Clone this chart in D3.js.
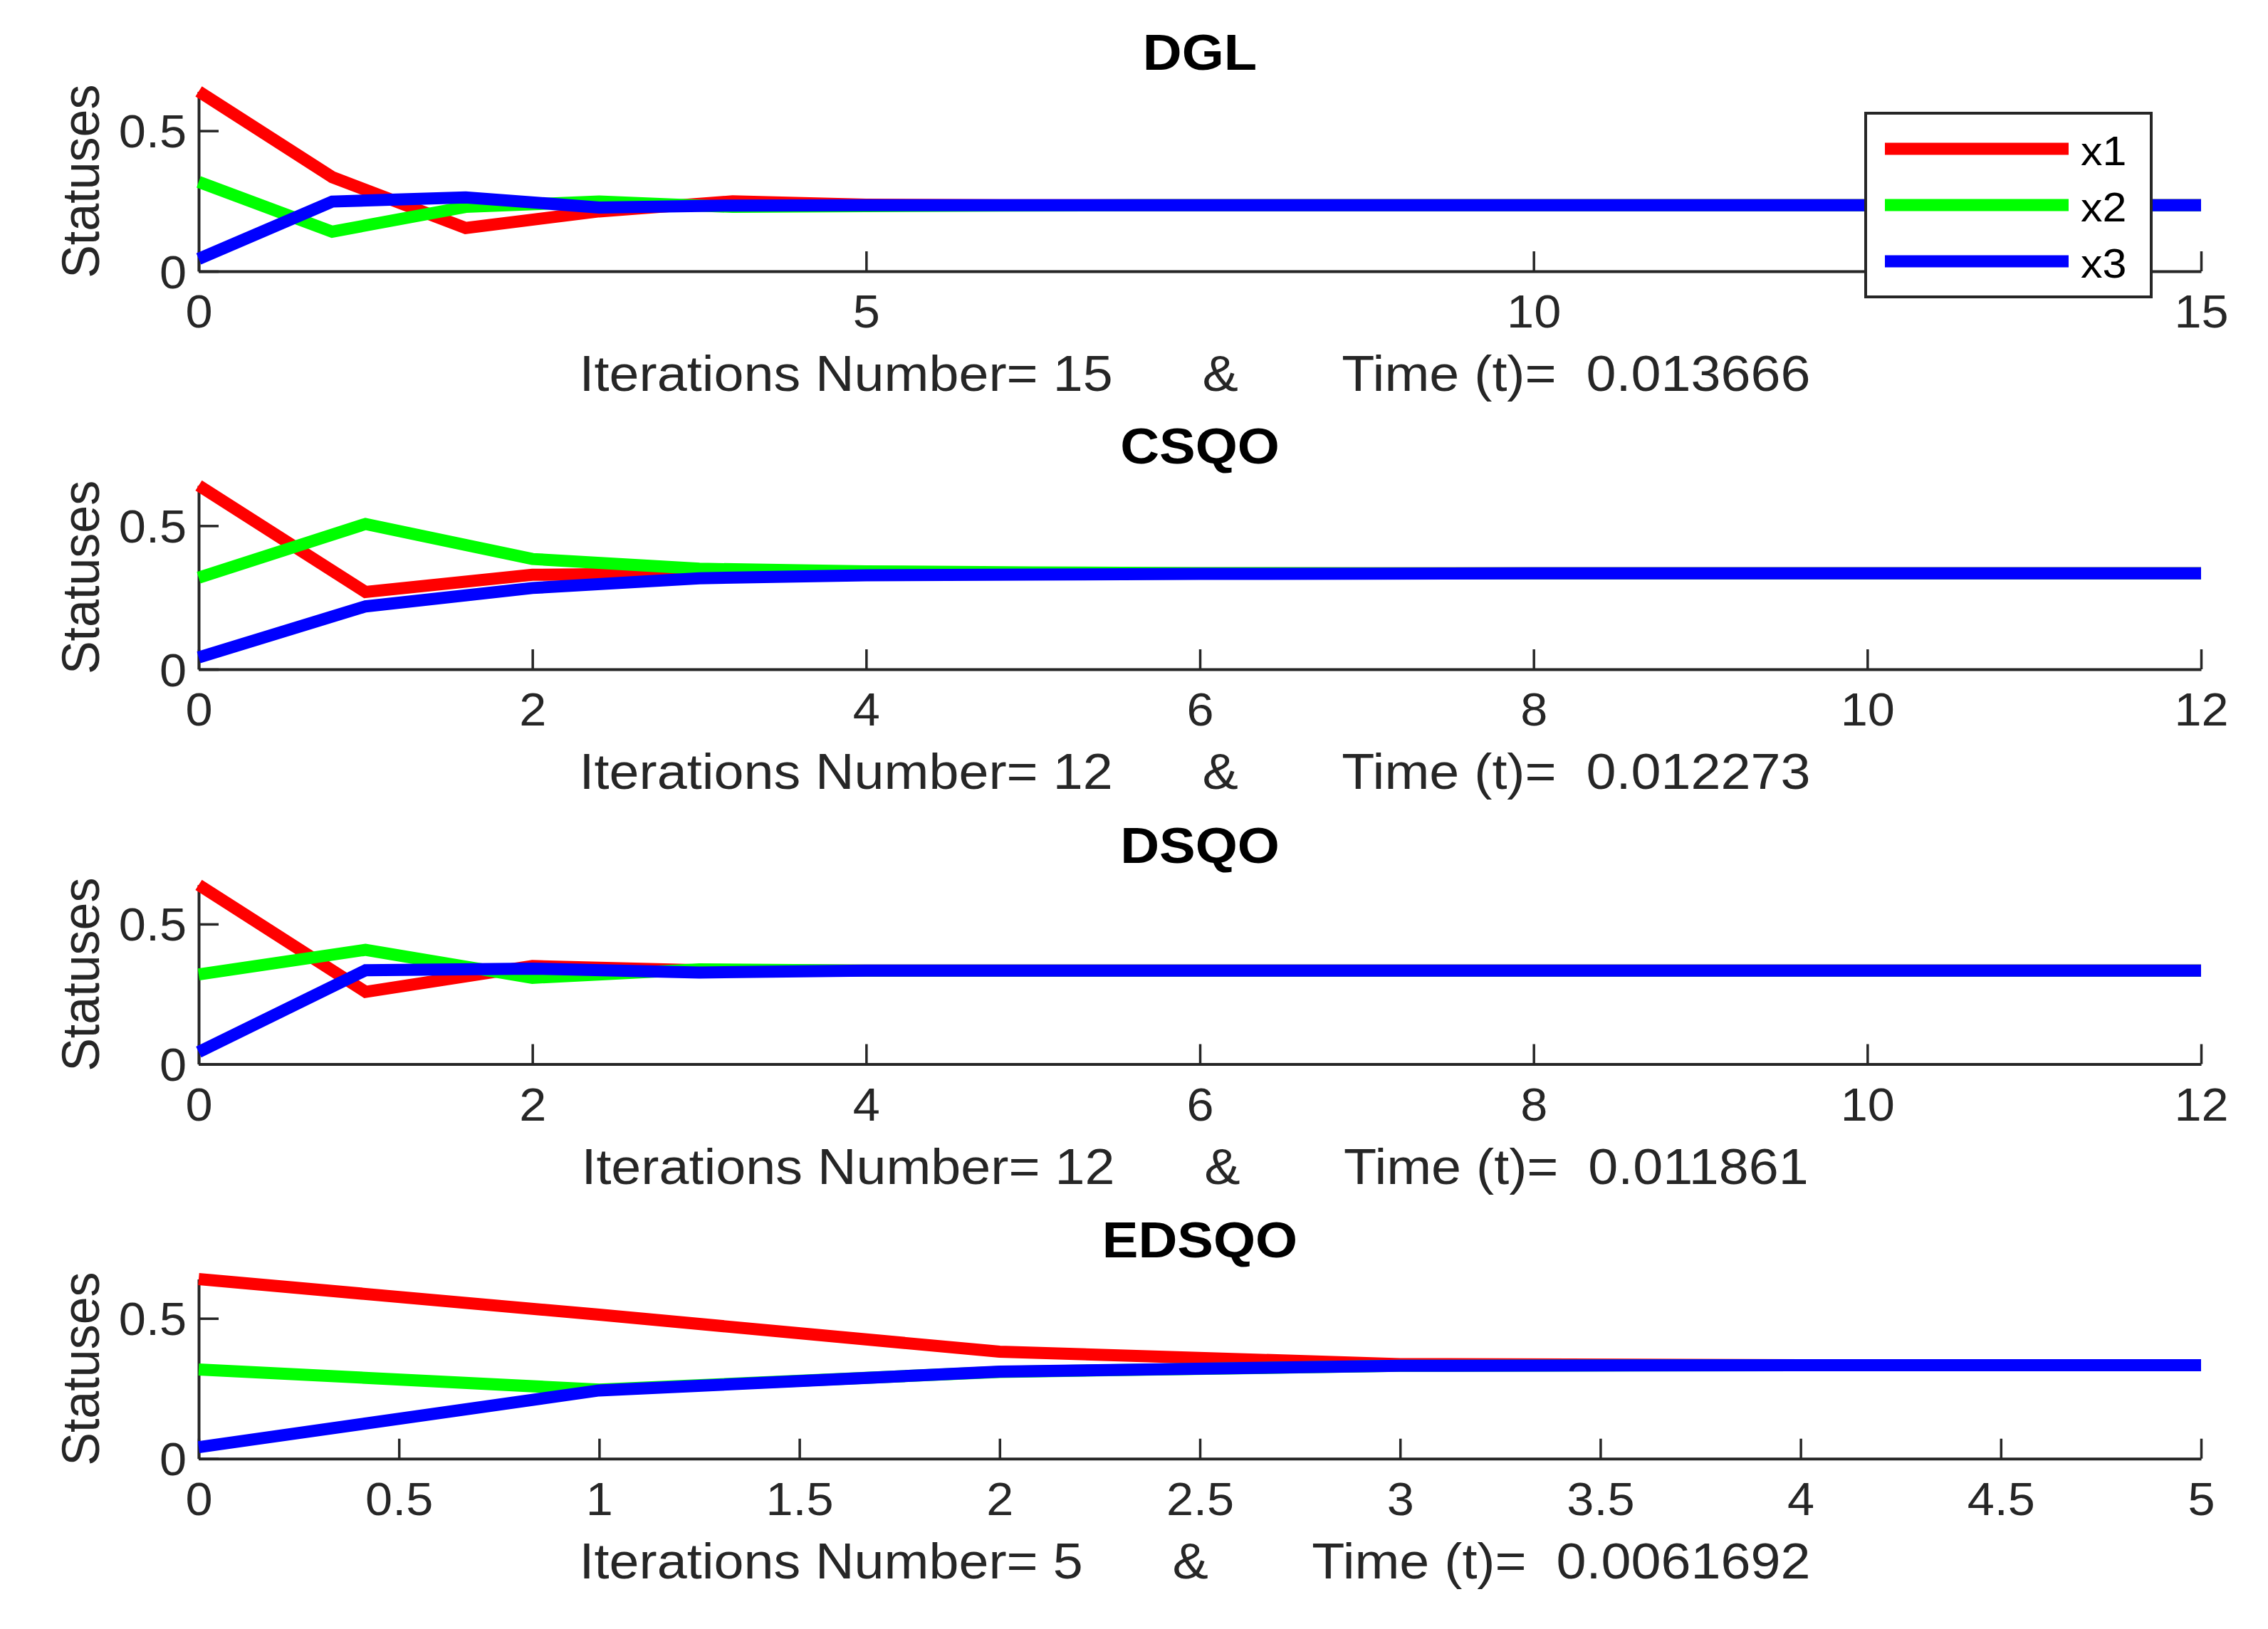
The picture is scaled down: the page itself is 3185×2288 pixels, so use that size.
<!DOCTYPE html>
<html>
<head>
<meta charset="utf-8">
<script src="https://cdn.jsdelivr.net/npm/d3@7"></script>
<style>
  html, body { margin: 0; padding: 0; background: #fff; }
  text { font-family: "Liberation Sans", Arial, Helvetica, sans-serif; }
</style>
</head>
<body>
<script>
// ---------------- data ----------------
const panelTitles = ["DGL", "CSQO", "DSQO", "EDSQO"];
const iterationNumbers = [15, 12, 12, 5];
const timeValues = ["0.013666", "0.012273", "0.011861", "0.0061692"];
const xMaxValues = [15, 12, 12, 5];
const xTickValues = [
  [0, 5, 10, 15],
  [0, 2, 4, 6, 8, 10, 12],
  [0, 2, 4, 6, 8, 10, 12],
  [0, 0.5, 1, 1.5, 2, 2.5, 3, 3.5, 4, 4.5, 5]
];
const yTickValues = [0, 0.5];
const yMaxValue = 0.64;
const seriesNames = ["x1", "x2", "x3"];
const seriesColors = ["#ff0000", "#00ff00", "#0000ff"];

// DGL (iterations 0..15)
const dglX1 = [0.640, 0.335, 0.154, 0.213, 0.249, 0.237, 0.235, 0.235, 0.235, 0.235, 0.235, 0.235, 0.235, 0.235, 0.235, 0.235];
const dglX2 = [0.318, 0.141, 0.229, 0.248, 0.229, 0.232, 0.234, 0.235, 0.235, 0.235, 0.235, 0.235, 0.235, 0.235, 0.235, 0.235];
const dglX3 = [0.044, 0.248, 0.263, 0.227, 0.234, 0.235, 0.235, 0.235, 0.235, 0.235, 0.235, 0.235, 0.235, 0.235, 0.235, 0.235];
// CSQO (iterations 0..12)
const csqoX1 = [0.640, 0.269, 0.329, 0.335, 0.334, 0.334, 0.334, 0.334, 0.334, 0.334, 0.334, 0.334, 0.334];
const csqoX2 = [0.319, 0.506, 0.384, 0.350, 0.341, 0.337, 0.335, 0.334, 0.334, 0.334, 0.334, 0.334, 0.334];
const csqoX3 = [0.041, 0.219, 0.283, 0.317, 0.327, 0.330, 0.332, 0.333, 0.334, 0.334, 0.334, 0.334, 0.334];
// DSQO (iterations 0..12)
const dsqoX1 = [0.640, 0.258, 0.350, 0.335, 0.334, 0.334, 0.334, 0.334, 0.334, 0.334, 0.334, 0.334, 0.334];
const dsqoX2 = [0.320, 0.408, 0.308, 0.338, 0.334, 0.334, 0.334, 0.334, 0.334, 0.334, 0.334, 0.334, 0.334];
const dsqoX3 = [0.043, 0.335, 0.341, 0.327, 0.334, 0.334, 0.334, 0.334, 0.334, 0.334, 0.334, 0.334, 0.334];
// EDSQO (iterations 0..5)
const edsqoX1 = [0.640, 0.513, 0.381, 0.337, 0.333, 0.333];
const edsqoX2 = [0.318, 0.246, 0.309, 0.331, 0.333, 0.333];
const edsqoX3 = [0.041, 0.243, 0.310, 0.331, 0.333, 0.333];

const panelSeries = [
  [dglX1, dglX2, dglX3],
  [csqoX1, csqoX2, csqoX3],
  [dsqoX1, dsqoX2, dsqoX3],
  [edsqoX1, edsqoX2, edsqoX3]
];

// ---------------- layout ----------------
const W = 3185, H = 2288;
const plotLeft = 279, plotRight = 3091;
const panelBottoms = [381, 940, 1494.5, 2048.7];
const panelUnitPx = [394.7, 403.3, 393.3, 394];
const titleOffsets = [283, 289, 283, 283];
const HS = 1.07;             // horizontal stretch of the reference text
const axisColor = "#262626";
const tickFont = 64, labelFont = 70, titleFont = 71, legendFont = 57;

const svg = d3.select("body").append("svg")
  .attr("width", W).attr("height", H)
  .attr("viewBox", `0 0 ${W} ${H}`);
svg.append("rect").attr("width", W).attr("height", H).attr("fill", "#fff");

const fmt = d3.format("~g");

panelTitles.forEach((title, i) => {
  const bottom = panelBottoms[i];
  const top = bottom - yMaxValue * panelUnitPx[i];
  const x = d3.scaleLinear().domain([0, xMaxValues[i]]).range([plotLeft, plotRight]);
  const y = d3.scaleLinear().domain([0, yMaxValue]).range([bottom, top]);
  const g = svg.append("g");

  // x axis
  const gx = g.append("g")
    .attr("transform", `translate(0,${bottom})`)
    .call(d3.axisBottom(x).tickValues(xTickValues[i]).tickFormat(fmt).tickSizeInner(-28).tickSizeOuter(0));
  gx.select(".domain").attr("stroke", axisColor).attr("stroke-width", 4);
  gx.selectAll(".tick line").attr("stroke", axisColor).attr("stroke-width", 3.5);
  gx.selectAll(".tick text")
    .attr("y", null).attr("dy", null)
    .attr("transform", `translate(0,79) scale(${HS},1)`)
    .attr("fill", axisColor)
    .attr("font-size", tickFont)
    .attr("font-family", null);

  // y axis
  const gy = g.append("g")
    .attr("transform", `translate(${plotLeft},0)`)
    .call(d3.axisLeft(y).tickValues(yTickValues).tickFormat(fmt).tickSizeInner(-28).tickSizeOuter(0));
  gy.select(".domain").attr("stroke", axisColor).attr("stroke-width", 4);
  gy.selectAll(".tick line").attr("stroke", axisColor).attr("stroke-width", 3.5);
  gy.selectAll(".tick text")
    .attr("x", null).attr("dy", null)
    .attr("transform", `translate(-17,23) scale(${HS},1)`)
    .attr("fill", axisColor)
    .attr("font-size", tickFont)
    .attr("font-family", null);

  // data lines
  const line = d3.line().x((d, j) => x(j)).y(d => y(d));
  panelSeries[i].forEach((s, k) => {
    g.append("path")
      .attr("d", line(s))
      .attr("fill", "none")
      .attr("stroke", seriesColors[k])
      .attr("stroke-width", 17)
      .attr("stroke-linejoin", "miter")
      .attr("stroke-linecap", "butt");
  });

  // title
  g.append("text")
    .attr("transform", `translate(${(plotLeft + plotRight) / 2},${bottom - titleOffsets[i]}) scale(${HS},1)`)
    .attr("text-anchor", "middle")
    .attr("font-size", titleFont)
    .attr("font-weight", "bold")
    .attr("fill", "#000")
    .text(title);

  // x label
  const xl = "Iterations Number= " + iterationNumbers[i] + "      &       Time (t)=  " + timeValues[i];
  g.append("text")
    .attr("transform", `translate(${(plotLeft + plotRight) / 2 - 7},${bottom + 168}) scale(${HS * 1.008},1)`)
    .attr("text-anchor", "middle")
    .attr("xml:space", "preserve")
    .style("white-space", "pre")
    .attr("font-size", labelFont)
    .attr("fill", axisColor)
    .text(xl);

  // y label
  g.append("text")
    .attr("transform", `translate(139,${(top + bottom) / 2}) scale(${HS},1) rotate(-90)`)
    .attr("text-anchor", "middle")
    .attr("font-size", labelFont)
    .attr("fill", axisColor)
    .text("Statuses");
});

// legend (first panel)
const lg = svg.append("g");
lg.append("rect")
  .attr("x", 2620).attr("y", 159).attr("width", 401).attr("height", 258)
  .attr("fill", "#fff").attr("stroke", axisColor).attr("stroke-width", 4);
const legendRowY = [209, 288, 367];
seriesNames.forEach((name, k) => {
  lg.append("line")
    .attr("x1", 2647).attr("x2", 2905)
    .attr("y1", legendRowY[k]).attr("y2", legendRowY[k])
    .attr("stroke", seriesColors[k]).attr("stroke-width", 17);
  lg.append("text")
    .attr("transform", `translate(2922,${legendRowY[k] + 23}) scale(${HS},1)`)
    .attr("font-size", legendFont)
    .attr("fill", "#000")
    .text(name);
});
</script>
</body>
</html>
